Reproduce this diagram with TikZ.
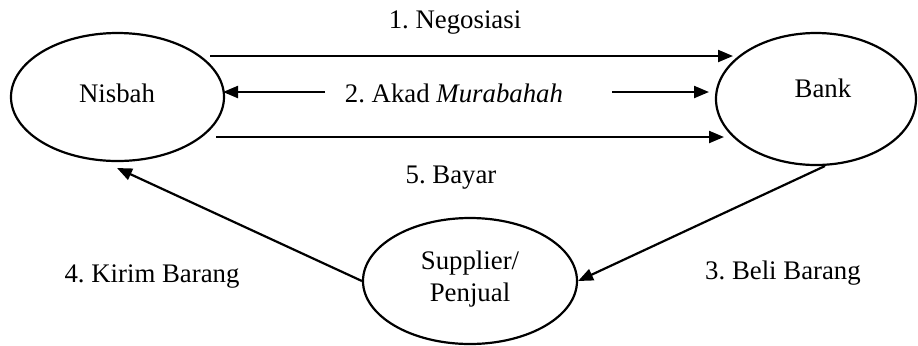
\documentclass[tikz,border=0pt]{standalone}
\usepackage{fontspec}
\setmainfont{Liberation Serif}
\usetikzlibrary{shapes.geometric,arrows.meta}
\frenchspacing
\begin{document}
\begin{tikzpicture}[x=0.5pt,y=-0.5pt,
  party/.style={draw,ellipse,line width=1.1pt,inner sep=0pt},
  flow/.style={line width=1.1pt,-{Triangle[length=7.5pt,width=6pt]}},
  lbl/.style={font=\fontsize{13.4}{16}\selectfont,inner sep=0pt,align=center}]
\useasboundingbox (0,0) rectangle (918,345);

% the three parties
\node[party,minimum width=106.5pt,minimum height=64pt] (nis) at (117.5,97) {};
\node[party,minimum width=100pt,minimum height=66pt] (bank) at (816,99) {};
\node[party,minimum width=107pt,minimum height=63pt] (sup) at (470,281) {};

\node[lbl] (nisT) at (117,93) {Nisbah};
\node[lbl] (bankT) at (823,88) {Bank};
\node[lbl] (supT) at (470,279) {Supplier/\\Penjual};

% arrow end points
\coordinate (a1s) at (210,56);  \coordinate (a1e) at (733,56);
\coordinate (a2l) at (325,92);  \coordinate (a2le) at (223,92);
\coordinate (a2r) at (612,92);  \coordinate (a2re) at (709,92);
\coordinate (a5s) at (216,137); \coordinate (a5e) at (724,137);
\coordinate (a4e) at (117,168);
\coordinate (a3s) at (825,166);

% flows
\draw[flow] (a1s) -- (a1e);
\draw[flow] (a2l) -- (a2le);
\draw[flow] (a2r) -- (a2re);
\draw[flow] (a5s) -- (a5e);
\draw[flow] (sup.west) -- (a4e);
\draw[flow] (a3s) -- (sup.east);

% labels
\node[lbl] (l1) at (455,23) {1. Negosiasi};
\node[lbl] (l2) at (454,93) {2. Akad \textit{Murabahah}};
\node[lbl] (l5) at (451,178) {5. Bayar};
\node[lbl] (l4) at (152,277) {4. Kirim Barang};
\node[lbl] (l3) at (783,273) {3. Beli Barang};
\end{tikzpicture}
\end{document}
